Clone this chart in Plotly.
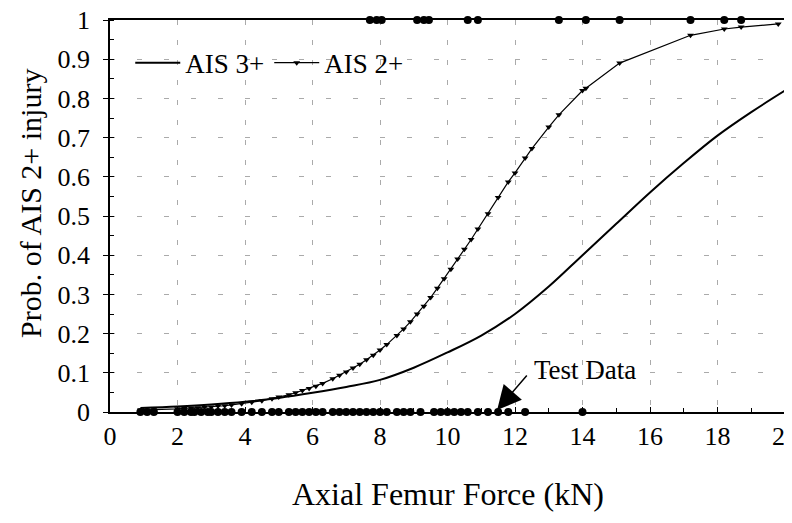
import plotly.graph_objects as go

# AIS 3+ risk curve
ais3_x = [0.9, 2, 3, 4, 5, 6, 7, 8, 9, 10, 11, 12, 13, 14, 15, 16, 17, 18, 19, 20]
ais3_y = [0.010, 0.014, 0.019, 0.026, 0.036, 0.049, 0.064, 0.082, 0.113, 0.152,
          0.195, 0.25, 0.32, 0.40, 0.48, 0.56, 0.635, 0.705, 0.765, 0.82]

# AIS 2+ risk curve (marked at test forces)
ais2_x = [0.9, 1.1, 1.3, 2.0, 2.2, 2.4, 2.6, 2.8, 3.0, 3.2, 3.4, 3.6, 3.9, 4.2, 4.5,
          4.8, 5.0, 5.3, 5.5, 5.7, 5.9, 6.1, 6.3, 6.6, 6.8, 7.0, 7.2, 7.4, 7.6, 7.8,
          8.0, 8.2, 8.5, 8.7, 8.9, 9.1, 9.3, 9.5, 9.7, 9.9, 10.1, 10.3, 10.5, 10.7,
          10.9, 11.2, 11.5, 11.8, 12.0, 12.3, 12.5, 13.0, 13.3, 14.0, 14.1, 15.1,
          17.2, 18.2, 18.7, 19.8]
ais2_y = [0.005, 0.005, 0.006, 0.008, 0.009, 0.010, 0.011, 0.012, 0.013, 0.015,
          0.016, 0.018, 0.021, 0.025, 0.029, 0.034, 0.038, 0.044, 0.049, 0.055,
          0.060, 0.066, 0.073, 0.085, 0.094, 0.102, 0.112, 0.122, 0.133, 0.145,
          0.158, 0.172, 0.195, 0.212, 0.23, 0.25, 0.27, 0.292, 0.316, 0.34,
          0.364, 0.39, 0.415, 0.44, 0.467, 0.506, 0.547, 0.587, 0.61, 0.648,
          0.672, 0.727, 0.758, 0.82, 0.826, 0.89, 0.961, 0.977, 0.982, 0.99]

# Test data: no injury (0) and injury (1)
test0_x = [0.9, 1.1, 1.3, 2.0, 2.2, 2.4, 2.5, 2.7, 2.9, 3.0, 3.2, 3.4, 3.6, 3.9,
           4.2, 4.5, 4.8, 5.0, 5.3, 5.5, 5.7, 5.9, 6.1, 6.3, 6.6, 6.8, 7.0, 7.2,
           7.4, 7.6, 7.8, 8.0, 8.2, 8.5, 8.7, 8.9, 9.2, 9.6, 9.8, 10.0, 10.2, 10.4,
           10.6, 10.9, 11.2, 11.5, 11.8, 12.3, 14.0]
test1_x = [7.7, 7.9, 8.05, 9.1, 9.3, 9.45, 10.6, 10.9, 13.3, 14.1, 15.1, 17.2, 18.2, 18.7]

x_ticks = [0, 2, 4, 6, 8, 10, 12, 14, 16, 18, 20]
x_ticklabels = ["0", "2", "4", "6", "8", "10", "12", "14", "16", "18", "20"]
y_ticks = [0, 0.1, 0.2, 0.3, 0.4, 0.5, 0.6, 0.7, 0.8, 0.9, 1.0]
y_ticklabels = ["0", "0.1", "0.2", "0.3", "0.4", "0.5", "0.6", "0.7", "0.8", "0.9", "1"]

FONT = "Liberation Serif, Times New Roman, serif"
FS_TICK = 26
FS_LEG = 27
FS_TITLE = 30
FS_XTITLE = 32

fig = go.Figure()

fig.add_trace(go.Scatter(
    x=test0_x + test1_x,
    y=[0] * len(test0_x) + [1] * len(test1_x),
    mode="markers", marker=dict(symbol="circle", size=8, color="black"),
    showlegend=False, cliponaxis=False, name="Test Data"))

fig.add_trace(go.Scatter(
    x=ais3_x, y=ais3_y, mode="lines", name="AIS 3+",
    line=dict(color="black", width=2, shape="spline")))

fig.add_trace(go.Scatter(
    x=ais2_x, y=ais2_y, mode="lines+markers", name="AIS 2+",
    line=dict(color="black", width=1.2),
    marker=dict(symbol="triangle-down", size=6, color="black")))

# page body has an 8px margin: the figure is sized/offset to compensate
fig.update_layout(
    width=784, height=515,
    margin=dict(l=102, r=7, t=12, b=111),
    paper_bgcolor="white", plot_bgcolor="white",
    font=dict(family=FONT, size=FS_TICK, color="black"),
    showlegend=True,
    legend=dict(orientation="h", x=0.03, y=0.89, xanchor="left", yanchor="middle",
                bgcolor="rgba(0,0,0,0)", font=dict(size=FS_LEG, family=FONT),
                itemwidth=45, tracegroupgap=0),
)

fig.update_xaxes(
    range=[0, 20], tickvals=x_ticks, ticktext=x_ticklabels,
    showline=True, linecolor="black", linewidth=1.5, mirror=True,
    ticks="inside", ticklen=5, tickcolor="black",
    minor=dict(dtick=1, ticks="inside", ticklen=4, tickcolor="black", showgrid=False),
    showgrid=True, gridcolor="#aaaaaa", gridwidth=1, griddash="5px,15px",
    zeroline=False, automargin=False, ticklabeloverflow="allow",
    tickfont=dict(size=FS_TICK, family=FONT),
)
fig.update_yaxes(
    range=[0, 1], tickvals=y_ticks, ticktext=y_ticklabels,
    showline=True, linecolor="black", linewidth=1.5, mirror=True,
    ticks="outside", ticklen=5, tickcolor="black",
    minor=dict(dtick=0.05, ticks="inside", ticklen=4, tickcolor="black", showgrid=False),
    showgrid=True, gridcolor="#aaaaaa", gridwidth=1, griddash="5px,22px",
    zeroline=False, automargin=False, ticklabelstandoff=8, ticklabeloverflow="allow",
    tickfont=dict(size=FS_TICK, family=FONT),
)

# Axis titles
fig.add_annotation(text="Axial Femur Force (kN)", xref="paper", yref="paper",
                   x=0.5, y=0, yshift=-82, xanchor="center", yanchor="middle",
                   showarrow=False, font=dict(size=FS_XTITLE, family=FONT))
fig.add_annotation(text="Prob. of AIS 2+ injury", xref="paper", yref="paper",
                   x=0, y=0.5, xshift=-80, yshift=12, xanchor="center", yanchor="middle",
                   textangle=-90, showarrow=False, font=dict(size=FS_TITLE, family=FONT))

# Test data callout: arrow and label
fig.add_annotation(text="", x=11.47, y=0.005, xref="x", yref="y",
                   showarrow=True, arrowhead=2, arrowsize=3.2, arrowwidth=1.5,
                   arrowcolor="black", ax=31, ay=-36)
fig.add_annotation(text="Test Data", x=12.5, y=0.107, xref="x", yref="y",
                   xanchor="left", yanchor="middle", showarrow=False,
                   font=dict(size=FS_LEG, family=FONT))

fig.write_html("out.html")
